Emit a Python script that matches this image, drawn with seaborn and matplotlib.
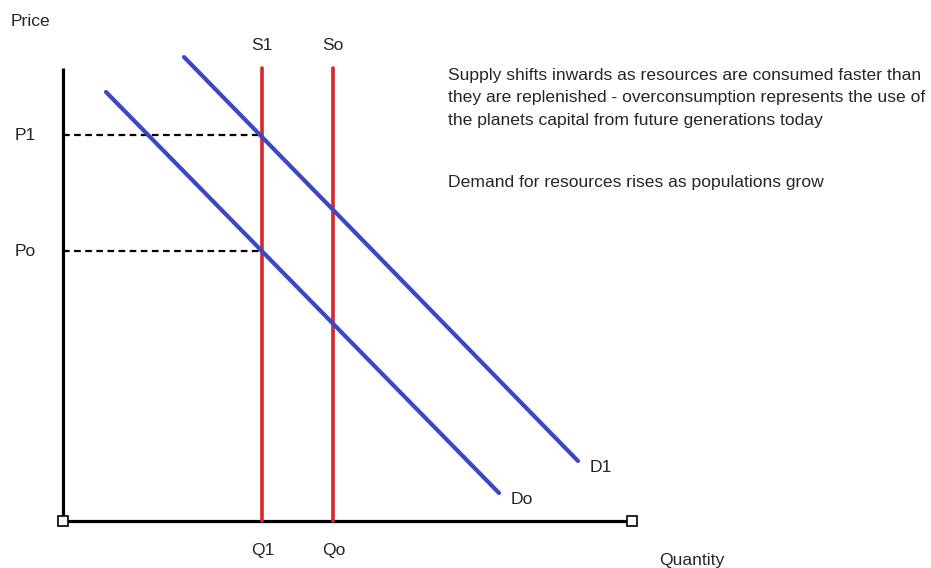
import matplotlib
matplotlib.use('Agg')
import matplotlib.pyplot as plt
import seaborn as sns
import pandas as pd

# diagram units: quantity to the right, price upwards, origin where the axes meet
q_axis_end = 569
p_axis_end = 453

# supply (vertical) lines
supply_names = ['S1', 'So']
supply_q = [199, 270]

# demand lines: start and end points
demand_names = ['Do', 'D1']
demand_q = [[43, 436], [121, 515]]
demand_p = [[429, 28], [464, 60]]

# equilibrium prices (dashed guides)
price_names = ['P1', 'Po']
price_levels = [386, 270]
quantity_names = ['Q1', 'Qo']

note_supply = ("Supply shifts inwards as resources are consumed faster than\n"
               "they are replenished - overconsumption represents the use of\n"
               "the planets capital from future generations today")
note_demand = "Demand for resources rises as populations grow"

sns.set_style('white')
plt.rcParams['font.family'] = ['Liberation Sans', 'DejaVu Sans']

fig = plt.figure(figsize=(9.31, 5.68), dpi=100)
ax = fig.add_axes([0, 0, 1, 1])
ax.set_xlim(-63, 868)
ax.set_ylim(-47, 521)
ax.axis('off')

blue = '#3b47c4'
red = '#d8262c'
fs = 12.6

# dashed guides
for p in price_levels:
    ax.plot([0, supply_q[0]], [p, p], color='black', lw=1.6, ls=(0, (3, 2)), zorder=1)

# axes with square end markers
ax.plot([0, 0], [0, p_axis_end], color='black', lw=2.3, solid_capstyle='butt', zorder=2)
ax.plot([0, q_axis_end], [0, 0], color='black', lw=2.3, solid_capstyle='butt', zorder=2)
ax.plot([0, q_axis_end], [0, 0], ls='none', marker='s', ms=7, mfc='white',
        mec='black', mew=1.2, zorder=5)

# supply lines
for name, q in zip(supply_names, supply_q):
    sns.lineplot(x=[q, q], y=[0, p_axis_end], color=red, lw=2.6, ax=ax,
                 estimator=None, sort=False, zorder=3)
    ax.text(q, p_axis_end + 23, name, ha='center', va='center', fontsize=fs)

# demand lines
for name, qs, ps in zip(demand_names, demand_q, demand_p):
    df = pd.DataFrame({'q': qs, 'p': ps})
    sns.lineplot(data=df, x='q', y='p', color=blue, lw=3, ax=ax,
                 estimator=None, sort=False, zorder=3)
    ax.text(qs[1] + 12, ps[1] - 7, name, ha='left', va='center', fontsize=fs)

# labels on the axes
for name, p in zip(price_names, price_levels):
    ax.text(-38, p, name, ha='center', va='center', fontsize=fs)
for name, q in zip(quantity_names, supply_q):
    ax.text(q + 1, -29, name, ha='center', va='center', fontsize=fs)

ax.text(-52, 500, 'Price', ha='left', va='center', fontsize=fs)
ax.text(596, -40, 'Quantity', ha='left', va='center', fontsize=fs)

ax.text(385, 453, note_supply, ha='left', va='top', fontsize=fs, linespacing=1.62)
ax.text(385, 339, note_demand, ha='left', va='center', fontsize=fs)

fig.savefig('out.png', dpi=100)
